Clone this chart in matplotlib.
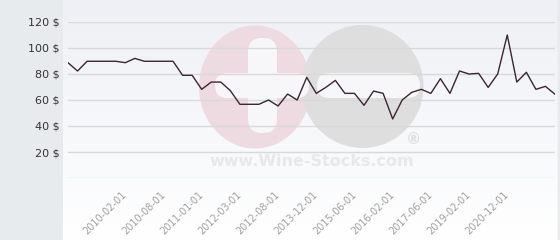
import matplotlib
matplotlib.use("Agg")
import matplotlib.pyplot as plt
import numpy as np
from matplotlib.patches import Ellipse, FancyBboxPatch

prices = [88.7, 82.3, 89.8, 89.8, 89.8, 89.8, 88.7, 92.0, 89.8, 89.8, 89.8, 89.8,
          79.0, 79.0, 68.2, 73.8, 73.8, 67.2, 56.7, 56.7, 56.7, 60.0, 55.4, 64.6,
          60.0, 77.4, 65.1, 69.7, 75.1, 65.1, 65.1, 55.9, 66.9, 65.1, 45.4, 60.0,
          65.9, 68.2, 65.1, 76.4, 65.1, 82.3, 80.0, 80.5, 69.7, 80.0, 110.0, 73.8,
          81.3, 68.2, 70.5, 64.4]
tick_idx = [6, 10, 14, 18, 22, 26, 30, 34, 38, 42, 46]
tick_labels = ["2010-02-01", "2010-08-01", "2011-01-01", "2012-03-01", "2012-08-01",
               "2013-12-01", "2015-06-01", "2016-02-01", "2017-06-01", "2019-02-01",
               "2020-12-01"]
y_ticks = [0, 20, 40, 60, 80, 100, 120]
y_labels = ["", "20 $", "40 $", "60 $", "80 $", "100 $", "120 $"]

W, H = 560, 240
fig = plt.figure(figsize=(W / 100, H / 100), dpi=100)
fig.patch.set_facecolor("#e7ebee")

# background panel with gradient + watermark (pixel coordinates)
bg = fig.add_axes([63 / W, 0, (558 - 63) / W, 1])
bg.set_xlim(63, 558)
bg.set_ylim(240, 0)
bg.axis("off")
top = np.array([0.933, 0.941, 0.961])
bot = np.array([1.0, 1.0, 1.0])
t = np.linspace(0, 1, 240)[:, None]
grad = top[None, :] * (1 - t) + bot[None, :] * t
bg.imshow(grad[:, None, :], extent=(63, 558, 240, 0), aspect="auto", zorder=0)

pink = "#eedbe1"
grey = "#dededf"
bg.add_patch(Ellipse((255, 87), 112, 123, facecolor=pink, edgecolor="none", zorder=1))
bg.add_patch(Ellipse((362.5, 86.5), 122, 123, facecolor=grey, edgecolor="none", zorder=2))
white = "#f7f7fa"
bg.add_patch(FancyBboxPatch((215, 73), 94, 25, boxstyle="round,pad=0,rounding_size=12.5",
                            facecolor=white, edgecolor="none", zorder=3))
bg.add_patch(FancyBboxPatch((248, 38), 29, 95, boxstyle="round,pad=0,rounding_size=14",
                            facecolor=white, edgecolor="none", zorder=3))
bg.add_patch(FancyBboxPatch((317, 73), 103, 25, boxstyle="round,pad=0,rounding_size=12.5",
                            facecolor=white, edgecolor="none", zorder=3))
bg.text(312, 162, "www.Wine-Stocks.com", fontsize=11.5, fontweight="bold",
        color="#e8e8eb", ha="center", va="center", zorder=3)
bg.text(413, 139, "®", fontsize=11, fontweight="bold", color="#dedee1",
        ha="center", va="center", zorder=3)
bg.plot([559, 559], [0, 240], color="#9a9a9a", lw=1.5, zorder=4)

# data axes
ax = fig.add_axes([68 / W, (240 - 178) / H, (555 - 68) / W, (178 - 22) / H])
ax.patch.set_alpha(0)
x = np.arange(len(prices))
ax.plot(x, prices, color="#3a2632", lw=1.0, zorder=3)
ax.set_xlim(0, len(prices) - 1)
ax.set_ylim(0, 120)
ax.set_yticks(y_ticks)
ax.set_yticklabels(y_labels, fontsize=8, color="#333333")
ax.set_xticks(tick_idx)
ax.set_xticklabels(tick_labels, fontsize=7, color="#a0a0a0", rotation=45,
                   ha="right", va="center", rotation_mode="anchor")
ax.tick_params(axis="both", length=0)
ax.tick_params(axis="y", pad=6)
ax.tick_params(axis="x", pad=11)
ax.grid(axis="y", color="#d9d9d9", lw=1)
ax.grid(axis="x", visible=False)
for s in ax.spines.values():
    s.set_visible(False)
ax.set_axisbelow(True)

fig.savefig("out.png", dpi=100)
